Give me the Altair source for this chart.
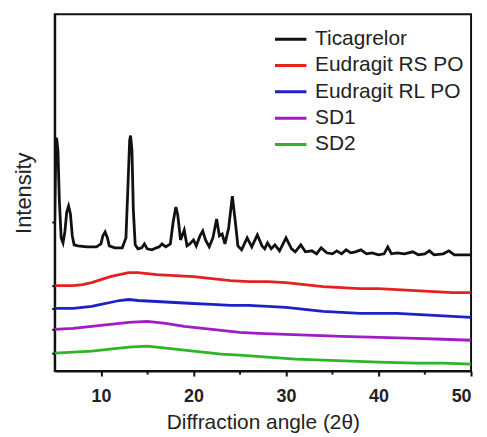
import altair as alt
import pandas as pd

series_names = ["Ticagrelor", "Eudragit RS PO", "Eudragit RL PO", "SD1", "SD2"]
series_colors = ["#111111", "#e3221f", "#1d22c8", "#a21cc6", "#2db52a"]

tic_x = [5.0, 5.1, 5.2, 5.35, 5.5, 5.7, 5.9, 6.1, 6.3, 6.5, 6.7, 6.9, 7.1, 7.5, 8.5, 9.5,
         10.0, 10.2, 10.45, 10.7, 10.9, 11.5, 12.3, 12.7, 12.9, 13.1, 13.2, 13.35, 13.5, 13.7,
         14.0, 14.4, 14.7, 15.0, 15.5, 16.0, 16.3, 16.6, 17.0, 17.5, 17.8, 18.1, 18.3, 18.6,
         19.0, 19.3, 19.6, 20.0, 20.3, 20.7, 21.0, 21.3, 21.7, 22.1, 22.5, 22.8, 23.1, 23.4,
         23.8, 24.2, 24.5, 24.8, 25.2, 25.8, 26.3, 26.9, 27.4, 27.7, 28.0, 28.4, 28.8, 29.3,
         30.0, 30.6, 31.0, 31.6, 32.1, 32.8, 33.3, 33.8, 34.4, 35.0, 35.5, 36.0, 36.5, 37.0,
         37.5, 38.1, 38.7, 39.3, 40.0, 40.6, 41.0, 41.4, 42.0, 42.8, 43.7, 44.3, 45.0, 45.5,
         46.0, 47.0, 47.6, 48.2, 49.0, 50.0]
tic_y = [150, 212, 235, 222, 172, 134, 129, 140, 160, 166, 158, 136, 127, 126, 125, 125,
         128, 136, 140, 134, 126, 124, 124, 134, 182, 232, 237, 222, 162, 127,
         123, 124, 128, 123, 122, 124, 125, 128, 125, 128, 150, 165, 157, 132,
         142, 126, 128, 132, 126, 136, 141, 132, 125, 134, 153, 136, 138, 128,
         144, 176, 152, 126, 122, 134, 125, 137, 126, 123, 129, 123, 127, 121,
         134, 123, 120, 127, 120, 121, 118, 124, 119, 118, 121, 118, 122, 119,
         120, 122, 118, 119, 117, 118, 125, 118, 119, 118, 120, 117, 118, 121,
         117, 118, 121, 117, 117, 117]

rs_x = [5, 7, 8, 9, 10, 11, 12, 13, 14, 15, 16, 18, 20, 22, 24, 26, 28, 30, 32, 34, 36, 38, 40, 42, 44, 46, 48, 50]
rs_y = [86, 86, 87, 89, 92, 95, 97, 99, 99, 98, 97, 96, 95, 93, 91, 90, 90, 89, 87, 85, 84, 83, 83, 82, 81, 80, 79, 79]

rl_x = [5, 7, 8, 9, 10, 11, 12, 13, 14, 16, 18, 20, 22, 24, 26, 28, 30, 32, 34, 36, 38, 40, 42, 44, 46, 48, 50]
rl_y = [63, 63, 64, 65, 67, 69, 71, 72, 71, 70, 69, 68, 67, 66, 66, 65, 64, 62, 60, 59, 58, 58, 58, 57, 56, 55, 54]

sd1_x = [5, 7, 9, 11, 13, 15, 17, 19, 21, 23, 25, 27, 30, 33, 36, 40, 44, 47, 50]
sd1_y = [42, 43, 45, 47, 49, 50, 48, 45, 43, 41, 39, 38, 37, 36, 35, 34, 33, 32, 31]

sd2_x = [5, 7, 9, 11, 13, 15, 17, 19, 21, 23, 25, 28, 31, 34, 37, 40, 44, 47, 50]
sd2_y = [18, 19, 20, 22, 24, 25, 23, 21, 19, 17, 16, 14, 12, 11, 10, 9, 8, 8, 7]

x_major = [10, 15, 20, 25, 30, 35, 40, 45, 50]
y_ticks = [150, 86, 63, 42, 18]

rows = []
for name, xs, ys in [
    (series_names[0], tic_x, tic_y),
    (series_names[1], rs_x, rs_y),
    (series_names[2], rl_x, rl_y),
    (series_names[3], sd1_x, sd1_y),
    (series_names[4], sd2_x, sd2_y),
]:
    for xv, yv in zip(xs, ys):
        rows.append({"series": name, "angle": xv, "intensity": yv})
df = pd.DataFrame(rows)

chart = (
    alt.Chart(df)
    .mark_line(strokeWidth=2.8, clip=True)
    .encode(
        x=alt.X(
            "angle:Q",
            scale=alt.Scale(domain=[5, 50], nice=False, zero=False),
            axis=alt.Axis(
                title="Diffraction angle (2θ)",
                values=x_major,
                labelExpr="datum.value % 10 === 0 ? datum.label : ''",
                grid=False,
                tickSize={"condition": {"test": "datum.value % 10 === 0", "value": 5}, "value": 3},
                tickWidth=2,
                tickColor="#111111",
                domainColor="#111111",
                domainWidth=2,
                labelFont="Liberation Sans",
                labelFontSize=18,
                labelFontWeight="bold",
                labelColor="#222222",
                labelPadding=12,
                titleFont="Liberation Sans",
                titleFontSize=21,
                titleFontWeight="normal",
                titleColor="#222222",
                titlePadding=6,
            ),
        ),
        y=alt.Y(
            "intensity:Q",
            scale=alt.Scale(domain=[0, 359], nice=False, zero=False),
            axis=alt.Axis(
                title="Intensity",
                values=y_ticks,
                labels=False,
                grid=False,
                tickSize=3,
                tickWidth=2,
                tickColor="#111111",
                domainColor="#111111",
                domainWidth=2,
                titleFont="Liberation Sans",
                titleFontSize=22,
                titleFontWeight="normal",
                titleColor="#222222",
                titlePadding=15,
            ),
        ),
        color=alt.Color(
            "series:N",
            sort=series_names,
            scale=alt.Scale(domain=series_names, range=series_colors),
            legend=alt.Legend(
                title=None,
                orient="none",
                legendX=220,
                legendY=12,
                padding=0,
                symbolType="stroke",
                symbolSize=1000,
                symbolStrokeWidth=3,
                labelFont="Liberation Sans",
                labelFontSize=21,
                labelColor="#222222",
                labelOffset=7,
                clipHeight=26,
                rowPadding=0.5,
            ),
        ),
        order=alt.Order("angle:Q"),
    )
    .properties(
        width=419,
        height=359,
        autosize=alt.AutoSizeParams(type="none"),
        padding={"left": 47, "top": 5, "right": 8, "bottom": 66},
    )
    .configure(background="white")
    .configure_view(stroke="#111111", strokeWidth=2)
)

chart.save("out.html", embed_options={"renderer": "svg", "actions": False})
